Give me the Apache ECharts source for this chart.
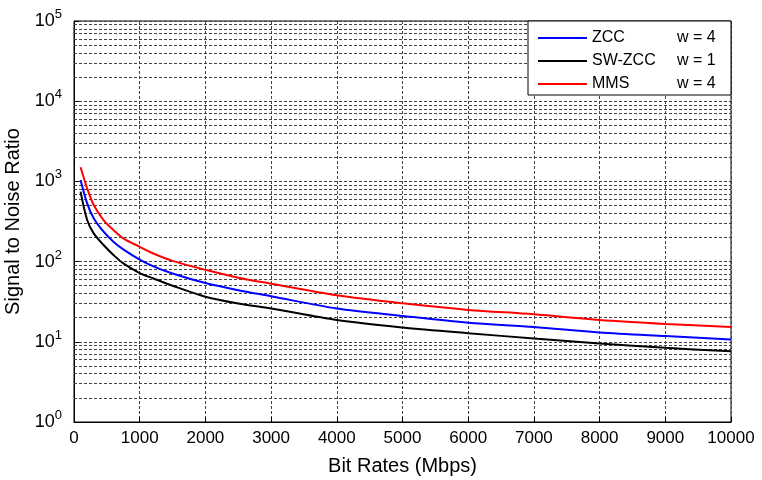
<!DOCTYPE html>
<html><head><meta charset="utf-8">
<script src="https://cdn.jsdelivr.net/npm/echarts@6/dist/echarts.min.js"></script>
<style>html,body{margin:0;padding:0;background:#fff}#c{width:762px;height:480px}</style>
</head><body><div id="c"></div>
<script>
const bitRates = [100, 200, 300, 450, 600, 750, 1000, 1200, 1500, 2000, 2500, 3000, 4000, 5000, 6000, 7000, 8000, 9000, 10000];
const zccSNR   = [1040, 533, 347, 236, 177, 142, 106, 88, 71, 54, 44, 37, 26, 21, 17.3, 15.3, 13.1, 11.8, 10.7];
const swzccSNR = [745, 330, 225, 161, 121, 95, 72, 62, 50, 36.5, 30, 26, 18.7, 15.1, 12.8, 11, 9.5, 8.4, 7.6];
const mmsSNR   = [1500, 820, 508, 330, 248, 195, 153, 127, 102, 79, 63, 53, 38, 30.2, 25, 22, 18.7, 16.7, 15.3];
const seriesNames = ['ZCC', 'SW-ZCC', 'MMS'];
const weights = ['w = 4', 'w = 1', 'w = 4'];
const xTickInterval = 1000;

const minorGrid = [];
for (let e = 0; e < 5; e++) for (let m = 2; m <= 9; m++) minorGrid.push({ yAxis: m * Math.pow(10, e) });

const chart = echarts.init(document.getElementById('c'), null, { renderer: 'canvas' });
const font = 'Liberation Sans, Arial, Helvetica, sans-serif';
const gridLine = { color: '#444', width: 1, type: [3, 2] };
function mk(name, vals, color, extra) {
  return Object.assign({
    name, type: 'line', symbol: 'none', smooth: 0.3,
    data: bitRates.map((x, i) => [x, vals[i]]),
    lineStyle: { color, width: 2 }, itemStyle: { color },
    z: 5
  }, extra || {});
}
chart.setOption({
  animation: false,
  textStyle: { fontFamily: font },
  grid: { left: 74, right: 31, top: 21, bottom: 58, containLabel: false, outerBoundsMode: 'none',
    show: true, borderColor: '#000', borderWidth: 1, backgroundColor: 'transparent' },
  legend: {
    orient: 'vertical', left: 528, top: 21, padding: [9, 12, 3, 10], itemGap: 7,
    itemWidth: 49, itemHeight: 2, backgroundColor: '#fff', borderColor: '#000', borderWidth: 1,
    icon: 'path://M0 0H49V2H0Z',
    data: seriesNames,
    formatter: n => '{a|' + n + '}{b|' + weights[seriesNames.indexOf(n)] + '}',
    textStyle: { color: '#000', fontFamily: font, rich: {
      a: { fontSize: 16, width: 85, lineHeight: 16, fontFamily: font, color: '#000' },
      b: { fontSize: 16, width: 42, lineHeight: 16, fontFamily: font, color: '#000' } } }
  },
  xAxis: {
    type: 'value', min: 0, max: 10000, interval: xTickInterval,
    name: 'Bit Rates (Mbps)', nameLocation: 'middle', nameGap: 34,
    nameTextStyle: { fontSize: 20, color: '#000', fontFamily: font },
    axisLine: { lineStyle: { color: '#000', width: 1 } },
    axisTick: { inside: true, length: 5, lineStyle: { color: '#000' } },
    axisLabel: { fontSize: 17, color: '#000', margin: 8, fontFamily: font, formatter: v => String(v) },
    splitLine: { show: true, lineStyle: gridLine }
  },
  yAxis: {
    type: 'log', logBase: 10, min: 1, max: 100000,
    name: 'Signal to Noise Ratio', nameLocation: 'middle', nameGap: 50,
    nameTextStyle: { fontSize: 20, color: '#000', fontFamily: font },
    axisLine: { lineStyle: { color: '#000', width: 1 } },
    axisTick: { inside: true, length: 5, lineStyle: { color: '#000' } },
    axisLabel: {
      margin: 12, color: '#000', fontFamily: font,
      formatter: v => '{b|10}{s|' + Math.round(Math.log10(v)) + '}',
      rich: {
        b: { fontSize: 18, lineHeight: 26, verticalAlign: 'middle', color: '#000', fontFamily: font },
        s: { fontSize: 13, lineHeight: 13, verticalAlign: 'top', color: '#000', fontFamily: font }
      }
    },
    splitLine: { show: true, lineStyle: gridLine }
  },
  series: [
    mk('ZCC', zccSNR, '#0000ff', {
      markLine: { silent: true, symbol: 'none', label: { show: false }, lineStyle: gridLine, data: minorGrid, z: 1 }
    }),
    mk('SW-ZCC', swzccSNR, '#000000'),
    mk('MMS', mmsSNR, '#ff0000')
  ]
});
</script></body></html>
